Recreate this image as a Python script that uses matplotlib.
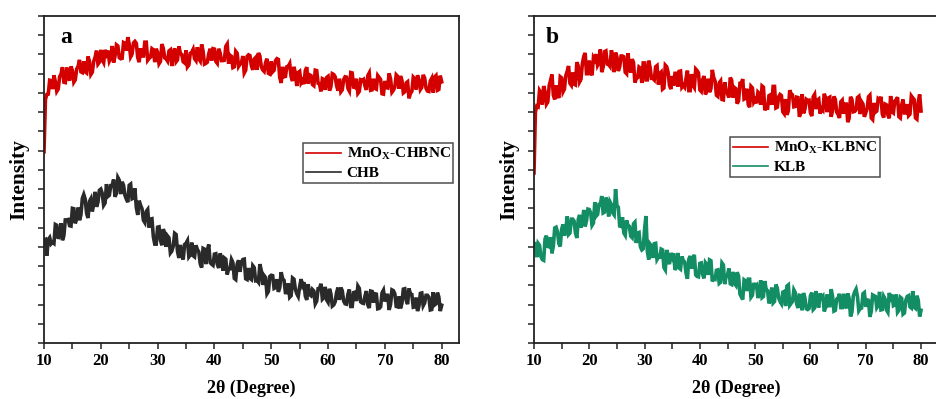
import numpy as np
import matplotlib
matplotlib.use("Agg")
import matplotlib.pyplot as plt
from matplotlib.ticker import MultipleLocator

plt.rcParams['font.family'] = ['Liberation Serif', 'DejaVu Serif']
plt.rcParams['font.weight'] = 'bold'
plt.rcParams['mathtext.fontset'] = 'custom'
plt.rcParams['mathtext.rm'] = 'Liberation Serif:bold'
plt.rcParams['mathtext.it'] = 'Liberation Serif:bold'
plt.rcParams['mathtext.bf'] = 'Liberation Serif:bold'

# Intensities (a.u.) sampled every 0.25 degree from 10 to 80 degrees 2theta
# Panel a
mnox_chbnc = [497, 633, 646, 647, 683, 682, 660, 696, 679, 654,
              660, 692, 699, 717, 678, 677, 716, 691, 682, 719,
              708, 678, 684, 712, 719, 736, 705, 703, 732, 705,
              702, 745, 732, 698, 704, 732, 743, 760, 725, 730,
              762, 736, 729, 762, 751, 760, 733, 741, 772, 729,
              746, 775, 772, 742, 739, 740, 781, 779, 760, 795,
              777, 744, 751, 780, 784, 779, 742, 730, 766, 746,
              746, 782, 782, 735, 740, 743, 765, 762, 730, 765,
              755, 726, 732, 777, 766, 741, 739, 733, 759, 762,
              720, 753, 766, 731, 736, 771, 753, 750, 731, 728,
              761, 718, 723, 753, 755, 763, 739, 734, 769, 739,
              733, 776, 759, 725, 727, 730, 752, 765, 734, 765,
              764, 732, 727, 765, 754, 734, 734, 735, 771, 777,
              726, 748, 745, 716, 718, 758, 753, 719, 725, 728,
              746, 702, 709, 745, 749, 747, 721, 710, 738, 742,
              710, 754, 746, 718, 710, 706, 729, 739, 701, 699,
              732, 705, 709, 734, 739, 737, 690, 676, 718, 692,
              693, 718, 719, 726, 692, 681, 718, 701, 668, 703,
              706, 676, 682, 673, 708, 717, 674, 697, 695, 672,
              669, 709, 708, 675, 673, 654, 687, 685, 658, 690,
              693, 656, 666, 700, 698, 692, 669, 656, 687, 653,
              658, 685, 692, 691, 662, 655, 703, 702, 665, 664,
              687, 649, 654, 684, 682, 685, 668, 658, 695, 702,
              657, 658, 687, 662, 660, 695, 690, 685, 648, 647,
              681, 664, 663, 701, 687, 652, 657, 665, 697, 693,
              661, 694, 683, 650, 653, 676, 679, 636, 649, 654,
              691, 687, 659, 696, 685, 659, 665, 697, 689, 662,
              655, 654, 681, 688, 651, 691, 695, 657, 659, 695,
              679]
chb = [267, 269, 227, 269, 274, 258, 262, 259, 308, 306,
       271, 279, 311, 267, 279, 320, 320, 321, 305, 304,
       350, 349, 311, 322, 352, 319, 333, 376, 386, 374,
       337, 325, 368, 375, 342, 360, 393, 354, 366, 397,
       400, 389, 358, 364, 413, 381, 384, 409, 409, 425,
       380, 389, 430, 423, 387, 419, 410, 384, 374, 366,
       410, 413, 375, 377, 402, 352, 333, 370, 358, 349,
       319, 313, 342, 347, 300, 322, 323, 276, 257, 257,
       301, 302, 267, 254, 296, 285, 250, 278, 273, 234,
       239, 252, 285, 282, 238, 221, 255, 228, 217, 256,
       259, 266, 224, 229, 261, 227, 224, 254, 243, 237,
       206, 196, 246, 244, 205, 241, 256, 209, 205, 202,
       231, 232, 205, 195, 233, 221, 188, 221, 218, 178,
       193, 193, 217, 209, 168, 165, 205, 215, 185, 209,
       217, 218, 167, 165, 195, 168, 165, 201, 196, 162,
       163, 158, 205, 188, 151, 175, 170, 128, 134, 173,
       176, 175, 142, 144, 166, 133, 144, 184, 167, 163,
       131, 131, 155, 119, 123, 169, 166, 139, 128, 121,
       146, 166, 150, 158, 122, 112, 153, 126, 123, 139,
       135, 102, 109, 141, 141, 154, 114, 118, 146, 112,
       106, 141, 128, 96, 99, 107, 131, 144, 112, 144,
       136, 109, 102, 101, 127, 139, 95, 95, 131, 132,
       109, 148, 142, 107, 104, 103, 122, 135, 99, 91,
       135, 134, 105, 128, 127, 89, 90, 94, 130, 137,
       108, 124, 124, 86, 100, 138, 136, 128, 95, 94,
       121, 90, 103, 140, 141, 111, 101, 142, 127, 126,
       93, 94, 118, 83, 96, 129, 130, 97, 104, 124,
       124, 119, 86, 87, 132, 99, 102, 131, 120, 83,
       98]

# Panel b
mnox_klbnc = [442, 601, 616, 614, 656, 650, 620, 668, 653, 621,
              627, 669, 683, 698, 644, 633, 670, 644, 637, 692,
              689, 653, 660, 695, 706, 720, 675, 670, 703, 673,
              671, 730, 720, 679, 686, 726, 745, 754, 700, 700,
              734, 703, 696, 742, 736, 751, 722, 729, 763, 704,
              717, 757, 759, 725, 724, 719, 761, 743, 704, 755,
              744, 707, 718, 746, 746, 744, 704, 700, 753, 716,
              703, 738, 729, 677, 687, 690, 717, 714, 676, 728,
              728, 684, 684, 734, 716, 688, 688, 684, 718, 721,
              672, 700, 704, 660, 663, 722, 718, 704, 670, 660,
              694, 669, 701, 701, 666, 706, 707, 665, 670, 665,
              688, 708, 656, 656, 699, 670, 664, 712, 708, 702,
              658, 654, 684, 694, 646, 655, 687, 652, 661, 710,
              690, 681, 644, 641, 676, 681, 633, 632, 678, 653,
              648, 638, 690, 683, 638, 664, 661, 622, 630, 675,
              675, 686, 634, 636, 661, 620, 613, 667, 663, 626,
              632, 623, 652, 648, 619, 668, 665, 605, 612, 611,
              643, 645, 619, 667, 667, 611, 613, 640, 646, 643,
              601, 596, 634, 593, 604, 657, 648, 645, 614, 615,
              639, 638, 588, 599, 647, 597, 608, 633, 630, 631,
              598, 590, 640, 646, 608, 631, 634, 596, 609, 605,
              648, 636, 600, 637, 639, 588, 605, 641, 633, 600,
              594, 585, 627, 631, 596, 621, 621, 574, 584, 640,
              633, 601, 602, 606, 638, 641, 595, 627, 621, 588,
              598, 609, 640, 644, 585, 581, 624, 600, 603, 635,
              632, 640, 595, 586, 621, 619, 593, 584, 642, 601,
              598, 629, 632, 639, 588, 585, 619, 633, 598, 598,
              621, 591, 595, 642, 637, 633, 585, 582, 627, 646,
              603]
klb = [253, 262, 223, 259, 254, 225, 217, 215, 271, 279,
       251, 250, 275, 233, 252, 299, 301, 289, 258, 251,
       296, 308, 279, 293, 329, 282, 286, 322, 322, 317,
       286, 273, 321, 333, 300, 314, 346, 303, 318, 348,
       347, 338, 306, 312, 366, 330, 334, 360, 360, 382,
       338, 340, 378, 369, 329, 367, 360, 338, 333, 400,
       357, 353, 304, 303, 327, 286, 280, 319, 305, 303,
       278, 274, 310, 314, 260, 285, 287, 250, 242, 245,
       296, 330, 238, 217, 257, 252, 221, 258, 259, 217,
       223, 223, 244, 242, 196, 190, 242, 215, 205, 234,
       223, 233, 190, 197, 234, 195, 192, 225, 214, 211,
       181, 167, 218, 226, 193, 222, 229, 177, 173, 172,
       207, 208, 178, 168, 209, 204, 177, 216, 214, 160,
       168, 166, 189, 190, 155, 158, 208, 203, 153, 174,
       176, 194, 154, 152, 185, 155, 150, 184, 174, 127,
       120, 113, 164, 161, 135, 166, 166, 119, 124, 156,
       148, 151, 117, 129, 163, 118, 121, 161, 138, 136,
       103, 111, 144, 104, 108, 152, 143, 117, 108, 102,
       132, 134, 96, 148, 151, 98, 103, 108, 138, 131,
       102, 91, 124, 123, 85, 130, 117, 89, 87, 90,
       123, 131, 87, 91, 135, 105, 92, 129, 118, 122,
       82, 93, 126, 97, 97, 140, 121, 83, 85, 114,
       116, 128, 92, 92, 128, 98, 90, 129, 116, 69,
       80, 122, 133, 140, 121, 84, 90, 91, 128, 131,
       94, 112, 111, 68, 82, 125, 123, 121, 92, 98,
       133, 86, 87, 121, 114, 86, 80, 130, 118, 126,
       97, 99, 126, 80, 85, 119, 116, 75, 78, 111,
       121, 123, 94, 91, 135, 93, 90, 123, 111, 69,
       85]

panel_letters = ['a', 'b']
x_ticks = [10, 20, 30, 40, 50, 60, 70, 80]
theta_start, theta_end = 10, 80

RED = '#d40000'
BLACK = '#2a2a2a'
GREEN = '#138d63'

W, H = 937, 399
fig = plt.figure(figsize=(W / 100, H / 100), dpi=100)

ax1 = fig.add_axes([44 / W, 56 / H, 415 / W, 327 / H])
ax2 = fig.add_axes([534 / W, 56 / H, 404.5 / W, 327 / H])

panels = [
    (ax1, mnox_chbnc, chb, BLACK, r'MnO$_{\mathrm{X}}$-CHBNC', 'CHB', 83.05,
     (0.624, 0.6116), (0.0386, 0.917)),
    (ax2, mnox_klbnc, klb, GREEN, r'MnO$_{\mathrm{X}}$-KLBNC', 'KLB', 83.16,
     (0.4846, 0.630), (0.030, 0.917)),
]

for k, (ax, top, bot, bcol, lab1, lab2, xmax, legpos, letpos) in enumerate(panels):
    x_top = np.linspace(theta_start, theta_end, len(top))
    x_bot = np.linspace(theta_start, theta_end, len(bot))
    ax.plot(x_top, top, color=RED, lw=2.6, solid_joinstyle='miter')
    ax.plot(x_bot, bot, color=bcol, lw=2.6, solid_joinstyle='miter')
    # legend proxies drawn with the thin line style of the legend
    ax.plot([], [], color=RED, lw=1.2, label=lab1)
    ax.plot([], [], color=bcol, lw=1.2, label=lab2)
    ax.set_xlim(10, xmax)
    ax.set_ylim(0, 850)
    ax.set_xticks(x_ticks)
    ax.xaxis.set_minor_locator(MultipleLocator(5))
    ax.yaxis.set_major_locator(MultipleLocator(100))
    ax.yaxis.set_minor_locator(MultipleLocator(50))
    ax.tick_params(axis='both', which='both', direction='out', length=4,
                   width=1.1, color='#222222')
    ax.tick_params(axis='y', labelleft=False)
    ax.tick_params(axis='x', labelsize=12, pad=3)
    for lbl in ax.get_xticklabels():
        lbl.set_fontweight('bold')
    for sp in ax.spines.values():
        sp.set_linewidth(1.3)
        sp.set_color('#222222')
    ax.set_xlabel('2θ (Degree)', fontsize=13, fontweight='bold', labelpad=8)
    ax.set_ylabel('Intensity', fontsize=15.5, fontweight='bold', labelpad=3)
    ax.text(letpos[0], letpos[1], panel_letters[k], transform=ax.transAxes,
            fontsize=17, fontweight='bold', ha='left', va='baseline')
    leg = ax.legend(loc='upper left', bbox_to_anchor=legpos, borderaxespad=0,
                    fontsize=11, frameon=True, fancybox=False,
                    handlelength=2.3, handletextpad=0.35, borderpad=0.2,
                    labelspacing=0.3)
    leg.get_frame().set_edgecolor('#222222')
    leg.get_frame().set_linewidth(1.1)
    for t in leg.get_texts():
        t.set_fontweight('bold')

fig.savefig('out.png', dpi=100)
